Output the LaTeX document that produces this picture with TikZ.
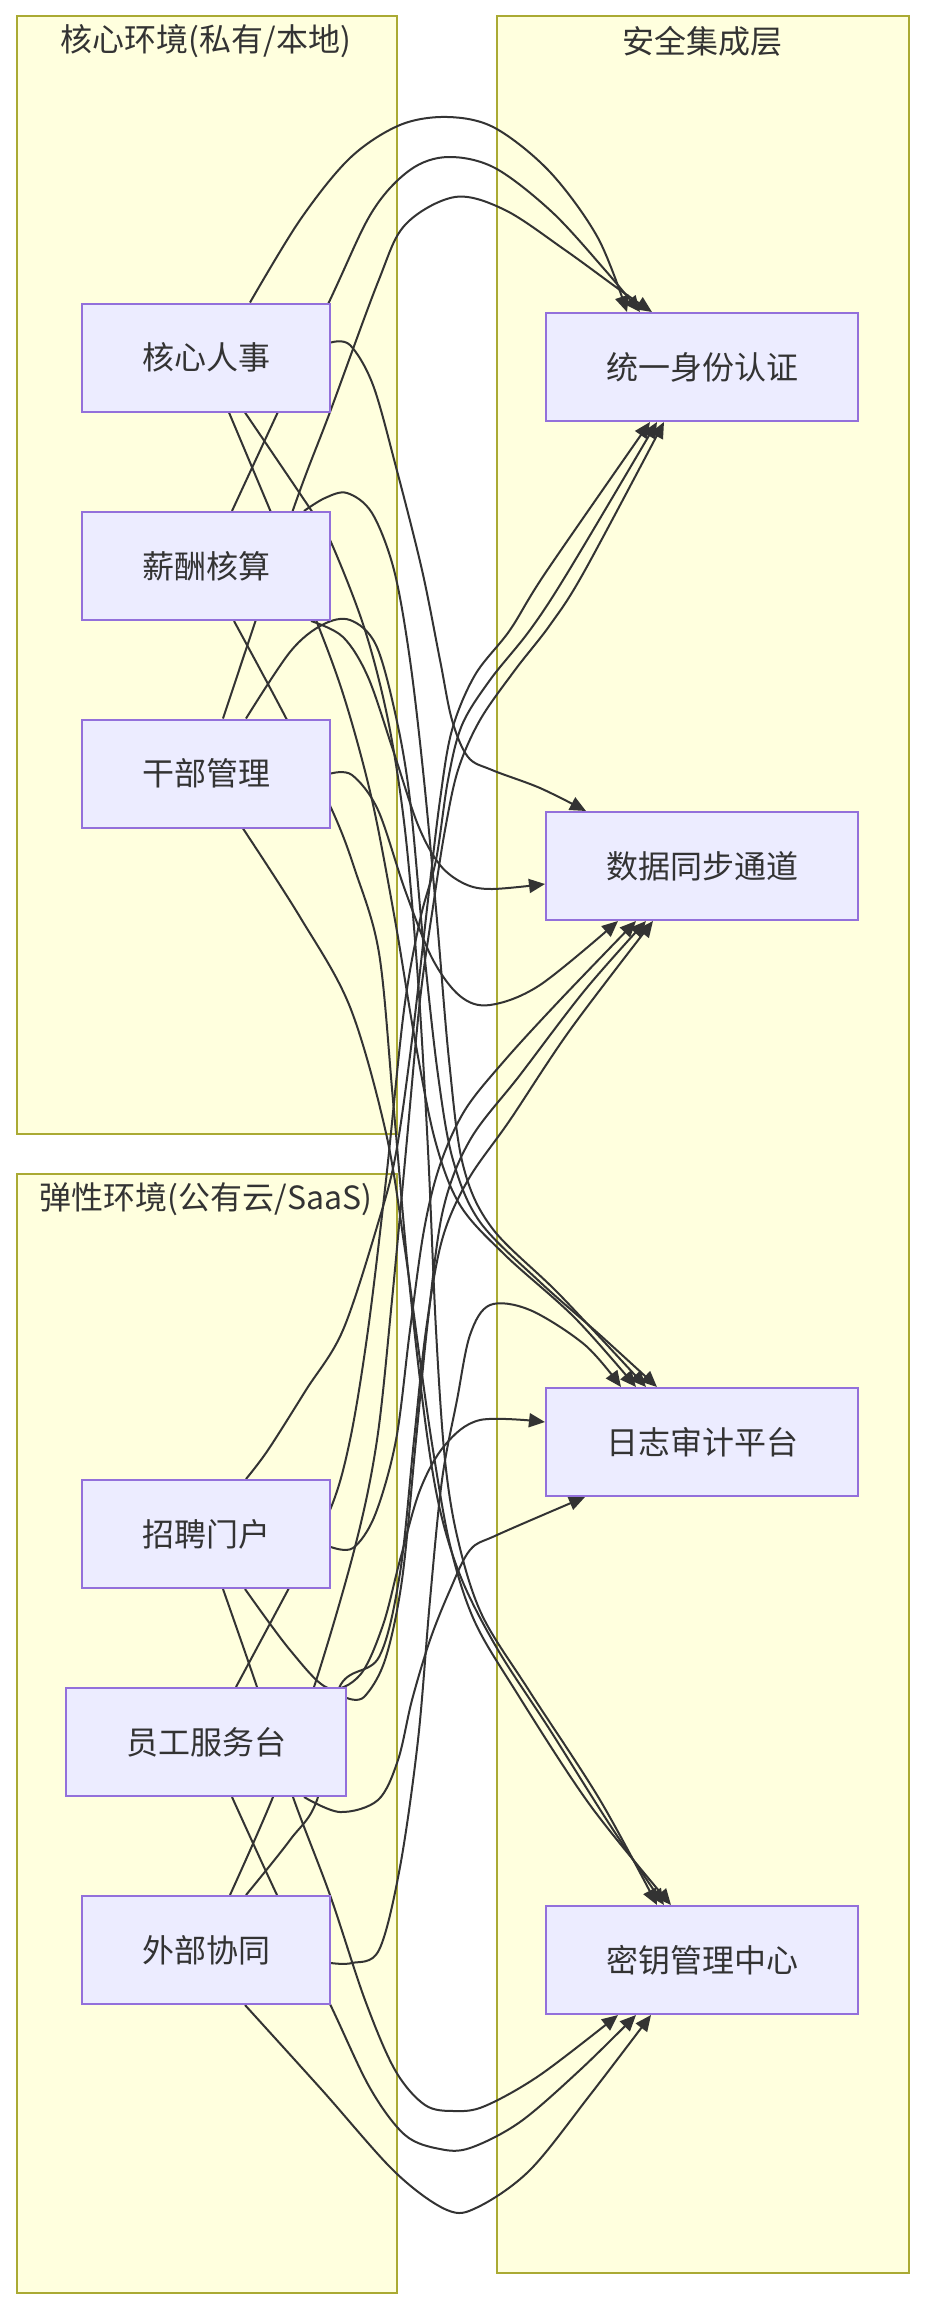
\documentclass[tikz,border=0pt]{standalone}
\usepackage{fontspec}
\newfontfamily\cjk{Noto Sans CJK SC}
\usetikzlibrary{arrows.meta}
\definecolor{clfill}{HTML}{FFFFDE}
\definecolor{clline}{HTML}{AAAA33}
\definecolor{ndfill}{HTML}{ECECFF}
\definecolor{ndline}{HTML}{9370DB}
\definecolor{edgec}{HTML}{333333}
\pgfdeclarelayer{bg}
\pgfdeclarelayer{edges}
\pgfsetlayers{bg,edges,main}
\begin{document}
\begin{tikzpicture}[x=1pt,y=-1pt,
  cluster/.style={draw=clline,fill=clfill,line width=2pt,anchor=north west,inner sep=0pt},
  ctitle/.style={font=\cjk\fontsize{32}{36}\selectfont,text=edgec,inner sep=0pt},
  box/.style={draw=ndline,fill=ndfill,line width=2pt,minimum height=108pt,font=\cjk\fontsize{32}{36}\selectfont,text=edgec,inner sep=0pt},
  lbox/.style={box,minimum width=248pt},
  rbox/.style={box,minimum width=312pt},
  edge/.style={draw=edgec,line width=2pt,-{Triangle[length=16pt,width=14pt]}},
  sm/.style={smooth,tension=0.55}
]
\useasboundingbox (0,0) rectangle (924,2308);
\begin{pgfonlayer}{bg}
\fill[white] (0,0) rectangle (924,2308);
\node[cluster,minimum width=380pt,minimum height=1118pt] (core) at (16,15) {};
\node[cluster,minimum width=380pt,minimum height=1119pt] (elastic) at (16,1173) {};
\node[cluster,minimum width=412pt,minimum height=2257pt] (sec) at (496,15) {};
\end{pgfonlayer}
\node[ctitle] (tcore) at (206,41) {核心环境(私有/本地)};
\node[ctitle] (telastic) at (206,1199) {弹性环境(公有云/SaaS)};
\node[ctitle] (tsec) at (702,41) {安全集成层};

\node[lbox] (HR) at (206,357.5) {核心人事};
\node[lbox] (Pay) at (206,566) {薪酬核算};
\node[lbox] (Cad) at (206,773.5) {干部管理};
\node[lbox] (Rec) at (206,1534) {招聘门户};
\node[box,minimum width=280pt] (Svc) at (206,1742) {员工服务台};
\node[lbox] (Ext) at (206,1950) {外部协同};

\node[rbox] (Auth) at (702,367) {统一身份认证};
\node[rbox] (Sync) at (702,866) {数据同步通道};
\node[rbox] (Log) at (702,1442) {日志审计平台};
\node[rbox] (Key) at (702,1960) {密钥管理中心};

\begin{pgfonlayer}{edges}
% core -> Auth
\draw[edge] plot[sm] coordinates {([xshift=44pt]HR.north) (300,220) (350,158) (400,125) (448,117) (495,128) (550,172) (598,238) ([xshift=-75pt]Auth.north)};
\draw[edge] plot[sm] coordinates {([xshift=26pt]Pay.north) (330,300) (372,212) (410,170) (448,157) (495,168) (552,212) (605,270) ([xshift=-62pt]Auth.north)};
\draw[edge] plot[sm] coordinates {([xshift=17pt]Cad.north) (293,510) (330,412) (378,282) (405,225) (455,197) (505,210) (565,250) (620,290) ([xshift=-50pt]Auth.north)};
% core -> Sync
\draw[edge] plot[sm] coordinates {([yshift=15pt]HR.east) (350,345) (373,385) (396,467) (422,570) (440,660) (452,720) (468,757) (492,770) (540,788) ([xshift=-116pt]Sync.north)};
\draw[edge] plot[sm] coordinates {([xshift=105pt]Pay.south) (343,637) (368,677) (393,750) (418,825) (440,865) (465,884) (492,889) ([yshift=-18pt]Sync.west)};
\draw[edge] plot[sm] coordinates {(Cad.east) (352,775) (378,810) (405,890) (432,958) (460,996) (490,1005) (540,985) ([xshift=-84pt]Sync.south)};
% core -> Log
\draw[edge] plot[sm] coordinates {([xshift=23pt]HR.south) (270,510) (316,620) (345,700) (372,800) (395,920) (415,1040) (435,1140) (460,1205) (505,1255) (575,1318) ([xshift=-66pt]Log.north)};
\draw[edge] plot[sm] coordinates {([xshift=98pt]Pay.north) (325,498) (347,493) (372,513) (394,570) (410,660) (424,780) (437,920) (449,1060) (463,1165) (492,1228) (560,1295) ([xshift=-56pt]Log.north)};
\draw[edge] plot[sm] coordinates {([xshift=40pt]Cad.north) (290,652) (322,625) (350,620) (376,645) (396,717) (410,800) (424,950) (438,1075) (453,1160) (480,1222) (540,1282) (600,1335) ([xshift=-45pt]Log.north)};
% core -> Key
\draw[edge] plot[sm] coordinates {([xshift=39pt]HR.south) (311,510) (330,540) (364,627) (388,720) (405,830) (418,980) (428,1150) (436,1330) (445,1460) (458,1540) (482,1615) (530,1692) (600,1800) ([xshift=-45pt]Key.north)};
\draw[edge] plot[sm] coordinates {([xshift=28pt]Pay.south) (286,718) (332,810) (355,870) (379,953) (393,1100) (408,1270) (425,1420) (440,1510) (462,1580) (498,1650) (550,1730) (610,1825) ([xshift=-38pt]Key.north)};
\draw[edge] plot[sm] coordinates {([xshift=37pt]Cad.south) (300,917) (350,1007) (386,1133) (405,1250) (420,1360) (433,1450) (450,1545) (474,1620) (515,1690) (590,1805) ([xshift=-31pt]Key.north)};
% elastic -> Auth
\draw[edge] plot[sm] coordinates {([xshift=40pt]Rec.north) (268,1450) (306,1390) (343,1330) (379,1220) (396,1153) (412,1040) (428,900) (440,800) (452,730) (475,675) (510,630) (546,572) ([xshift=-52pt]Auth.south)};
\draw[edge] plot[sm] coordinates {([xshift=30pt]Svc.north) (289,1588) (330,1510) (350,1440) (368,1330) (386,1180) (404,1010) (420,920) (436,860) (448,780) (462,725) (490,680) (530,630) (568,572) ([xshift=-45pt]Auth.south)};
\draw[edge] plot[sm] coordinates {([xshift=24pt]Ext.north) (273,1797) (314,1687) (355,1547) (377,1440) (392,1300) (406,1150) (420,1000) (434,900) (445,830) (458,770) (480,720) (515,670) (550,625) (584,572) ([xshift=-38pt]Auth.south)};
% elastic -> Sync
\draw[edge] plot[sm] coordinates {([yshift=-13pt]Rec.east) (353,1548) (375,1515) (396,1440) (410,1330) (424,1230) (440,1165) (465,1110) (505,1060) (560,1000) ([xshift=-66pt]Sync.south)};
\draw[edge] plot[sm] coordinates {([yshift=44pt]Svc.east) (364,1697) (385,1660) (402,1580) (416,1440) (428,1320) (443,1210) (470,1140) (520,1075) (585,990) ([xshift=-56pt]Sync.south)};
\draw[edge] plot[sm] coordinates {([xshift=40pt]Ext.north) (290,1840) (318,1797) (339,1688) (379,1657) (400,1573) (414,1440) (426,1330) (442,1240) (468,1180) (510,1120) (570,1030) ([xshift=-49pt]Sync.south)};
% elastic -> Log
\draw[edge] plot[sm] coordinates {([yshift=-13pt]Ext.east) (352,1963) (379,1950) (400,1867) (418,1740) (430,1600) (442,1480) (457,1400) (470,1335) (490,1305) (530,1310) (585,1345) ([xshift=-81pt]Log.north)};
\draw[edge] plot[sm] coordinates {([xshift=39pt]Rec.south) (290,1650) (328,1688) (360,1675) (383,1625) (400,1560) (420,1490) (445,1445) (480,1420) ([yshift=20pt]Log.west)};
\draw[edge] plot[sm] coordinates {([xshift=98pt]Svc.south) (340,1812) (378,1800) (398,1760) (412,1700) (430,1640) (450,1590) (470,1550) (497,1535) ([xshift=-117pt]Log.south)};
% elastic -> Key
\draw[edge] plot[sm] coordinates {([xshift=17pt]Rec.south) (257,1687) (293,1797) (330,1895) (365,2000) (395,2070) (425,2105) (455,2111) (485,2106) (540,2075) ([xshift=-84pt]Key.south)};
\draw[edge] plot[sm] coordinates {([xshift=26pt]Svc.south) (277,1895) (330,2004) (370,2088) (405,2135) (440,2149) (470,2148) (520,2122) (580,2070) ([xshift=-66pt]Key.south)};
\draw[edge] plot[sm] coordinates {([xshift=39pt]Ext.south) (322,2090) (395,2172) (447,2210) (478,2207) (530,2170) (590,2095) ([xshift=-51pt]Key.south)};
\end{pgfonlayer}
\end{tikzpicture}
\end{document}
